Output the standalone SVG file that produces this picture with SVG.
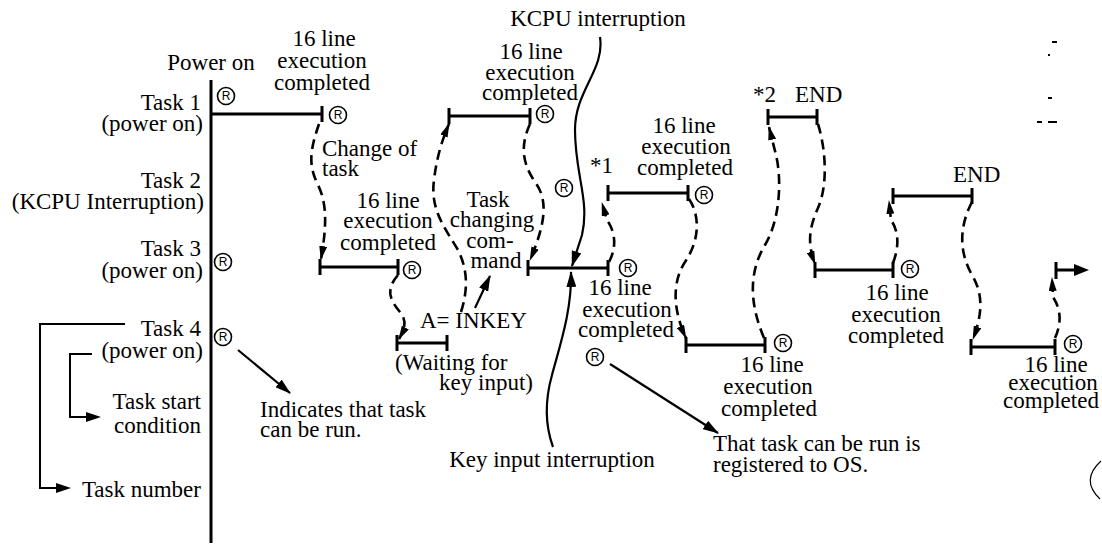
<svg xmlns="http://www.w3.org/2000/svg" width="1102" height="546" viewBox="0 0 1102 546" font-family="'Liberation Serif', 'DejaVu Serif', 'Times New Roman', serif">
<style>
text{font-family:'Liberation Serif','DejaVu Serif','Times New Roman',serif;font-size:23px;fill:#000}
.e{text-anchor:end}
.m{text-anchor:middle}
.seg{fill:none;stroke:#000;stroke-width:3}
.dash{fill:none;stroke:#000;stroke-width:2.6;stroke-dasharray:10 6}
.sol{fill:none;stroke:#000;stroke-width:2.2}
.thin{fill:none;stroke:#000;stroke-width:2}
text.rt{font-family:'Liberation Sans',Arial,sans-serif;font-size:12px;text-anchor:middle}
</style>
<defs>
<marker id="ah" viewBox="0 0 14 8" refX="13" refY="4" markerWidth="14" markerHeight="8" markerUnits="userSpaceOnUse" orient="auto"><path d="M0,0 L14,4 L0,8 z" fill="#000"/></marker>
<marker id="ah2" viewBox="0 0 16 10" refX="15" refY="5" markerWidth="16" markerHeight="10" markerUnits="userSpaceOnUse" orient="auto"><path d="M0,0 L16,5 L0,10 z" fill="#000"/></marker>
<g id="R"><circle cx="0" cy="0" r="8.5" fill="none" stroke="#000" stroke-width="1.6"/><text class="rt" x="0" y="4.3">R</text></g>
</defs>
<rect width="1102" height="546" fill="#fff"/>

<g id="axis"><path class="seg" d="M211 80 V543"/></g>

<g id="labels">
<text class="m" x="211" y="70">Power on</text>
<text class="e" x="201" y="110">Task 1</text>
<text class="e" x="203" y="131">(power on)</text>
<text class="e" x="201" y="188">Task 2</text>
<text class="e" x="204" y="209">(KCPU Interruption)</text>
<text class="e" x="201" y="256">Task 3</text>
<text class="e" x="203" y="278">(power on)</text>
<text class="e" x="201" y="336">Task 4</text>
<text class="e" x="203" y="358">(power on)</text>
<text class="e" x="201" y="409">Task start</text>
<text class="e" x="201" y="433">condition</text>
<text class="e" x="201" y="497">Task number</text>
</g>

<g id="legend">
<path class="thin" d="M125 324 H40 V488 H58"/>
<path d="M56 483 L71 488 L56 493 z"/>
<path class="thin" d="M92 354 H70 V417 H88"/>
<path d="M86 412 L101 417 L86 422 z"/>
</g>

<g id="task1-a"><path class="seg" d="M211 114 H322 M322 106 V122"/></g>
<g id="task3-a"><path class="seg" d="M320 259 V275 M320 267 H398 M398 259 V275"/></g>
<g id="task4-a"><path class="seg" d="M397 335 V351 M397 343 H447 M447 335 V351"/></g>
<g id="task1-b"><path class="seg" d="M449 108 V124 M449 116 H530 M530 108 V124"/></g>
<g id="task3-b"><path class="seg" d="M528 260 V276 M528 268 H608 M608 260 V276"/></g>
<g id="task2-a"><path class="seg" d="M608 185 V201 M608 193 H688 M688 185 V201"/></g>
<g id="task4-b"><path class="seg" d="M686 337 V353 M686 345 H765 M765 337 V353"/></g>
<g id="task1-c"><path class="seg" d="M768 109 V125 M768 117 H817 M817 109 V125"/></g>
<g id="task3-c"><path class="seg" d="M815 262 V278 M815 270 H893 M893 262 V278"/></g>
<g id="task2-b"><path class="seg" d="M893 188 V204 M893 196 H972 M972 188 V204"/></g>
<g id="task4-c"><path class="seg" d="M971 339 V355 M971 347 H1055 M1055 339 V355"/></g>
<g id="task3-d"><path class="seg" d="M1056 262 V279 M1056 270 H1076"/><path d="M1074 264 L1089 270 L1074 276 z"/></g>

<g id="marks">
<use href="#R" x="226" y="96"/>
<use href="#R" x="338" y="115"/>
<use href="#R" x="223" y="262"/>
<use href="#R" x="223" y="337"/>
<use href="#R" x="412" y="270"/>
<use href="#R" x="545" y="114"/>
<use href="#R" x="564" y="188"/>
<use href="#R" x="628" y="268"/>
<use href="#R" x="704" y="195"/>
<use href="#R" x="595" y="357"/>
<use href="#R" x="783" y="343"/>
<use href="#R" x="910" y="269"/>
<use href="#R" x="1073" y="344"/>
</g>

<g id="connectors">
<path class="dash" marker-end="url(#ah)" d="M319 124 C310 150 308 165 318 185 C328 205 326 230 321 259"/>
<path class="dash" marker-end="url(#ah)" d="M398 275 C385 290 390 300 400 312 C408 322 404 330 399 339"/>
<path class="dash" marker-end="url(#ah)" d="M461 312 C468 290 468 270 458 250 C445 228 430 210 434 180 C437 155 443 138 449 124"/>
<path class="dash" marker-end="url(#ah)" d="M530 124 C518 150 525 168 537 185 C548 202 545 225 530 260"/>
<path class="dash" marker-end="url(#ah)" d="M609 262 C618 245 614 230 607 220 L602 203"/>
<path class="dash" marker-end="url(#ah)" d="M689 199 C700 215 700 240 685 262 C670 285 675 315 686 338"/>
<path class="dash" marker-end="url(#ah)" d="M764 338 C748 300 750 270 765 245 C780 220 782 180 776 155 L769 127"/>
<path class="dash" marker-end="url(#ah)" d="M818 124 C826 150 828 185 818 208 C808 230 808 245 815 264"/>
<path class="dash" marker-end="url(#ah)" d="M893 263 C900 245 898 230 891 220 L889 201"/>
<path class="dash" marker-end="url(#ah)" d="M972 202 C960 225 958 250 972 275 C984 295 982 315 973 339"/>
<path class="dash" marker-end="url(#ah)" d="M1055 338 C1064 318 1058 305 1053 297 L1052 278"/>
<path class="sol" marker-end="url(#ah2)" d="M600 37 C605 70 575 90 575 130 C575 175 590 200 582 235 L572 266"/>
<path class="sol" marker-end="url(#ah2)" d="M553 447 C545 425 545 400 552 375 C560 345 572 310 571 272"/>
<path class="sol" marker-end="url(#ah2)" d="M475 308 L490 276"/>
<path class="sol" marker-end="url(#ah2)" d="M238 350 L290 393"/>
<path class="sol" marker-end="url(#ah2)" d="M610 364 L718 433"/>
</g>

<g id="notes">
<text class="m" x="324" y="46">16 line</text>
<text class="m" x="322" y="68">execution</text>
<text class="m" x="322" y="90">completed</text>
<text class="m" x="531" y="59">16 line</text>
<text class="m" x="530" y="80">execution</text>
<text class="m" x="530" y="100">completed</text>
<text class="m" x="598" y="26">KCPU interruption</text>
<text x="322" y="156">Change of</text>
<text x="322" y="176">task</text>
<text class="m" x="388" y="208">16 line</text>
<text class="m" x="388" y="228">execution</text>
<text class="m" x="388" y="250">completed</text>
<text class="m" x="488" y="207">Task</text>
<text class="m" x="492" y="227">changing</text>
<text class="m" x="490" y="248">com-</text>
<text class="m" x="496" y="268">mand</text>
<text x="420" y="328">A= INKEY</text>
<text x="395" y="370">(Waiting for</text>
<text class="e" x="533" y="390">key input)</text>
<text x="590" y="173">*1</text>
<text class="m" x="684" y="133">16 line</text>
<text class="m" x="686" y="154">execution</text>
<text class="m" x="685" y="175">completed</text>
<text x="753" y="102">*2</text>
<text x="795" y="102">END</text>
<text x="953" y="182">END</text>
<text class="m" x="620" y="295">16 line</text>
<text class="m" x="627" y="317">execution</text>
<text class="m" x="626" y="337">completed</text>
<text class="m" x="772" y="372">16 line</text>
<text class="m" x="768" y="394">execution</text>
<text class="m" x="769" y="416">completed</text>
<text class="m" x="897" y="300">16 line</text>
<text class="m" x="896" y="322">execution</text>
<text class="m" x="896" y="343">completed</text>
<text class="m" x="1056" y="372">16 line</text>
<text class="m" x="1053" y="390">execution</text>
<text class="m" x="1051" y="408">completed</text>
<text x="260" y="417">Indicates that task</text>
<text x="260" y="437">can be run.</text>
<text class="m" x="552" y="467">Key input interruption</text>
<text x="713" y="451">That task can be run is</text>
<text x="713" y="472">registered to OS.</text>
</g>

<g id="specks" fill="#000">
<rect x="1052" y="41" width="5" height="2"/>
<rect x="1048" y="54" width="2" height="2"/>
<rect x="1048" y="97" width="4" height="2"/>
<rect x="1037" y="121" width="5" height="2"/>
<rect x="1048" y="121" width="9" height="2"/>
<path d="M1101 461 Q1080 480 1100 499" fill="none" stroke="#000" stroke-width="1.2"/>
</g>
</svg>
